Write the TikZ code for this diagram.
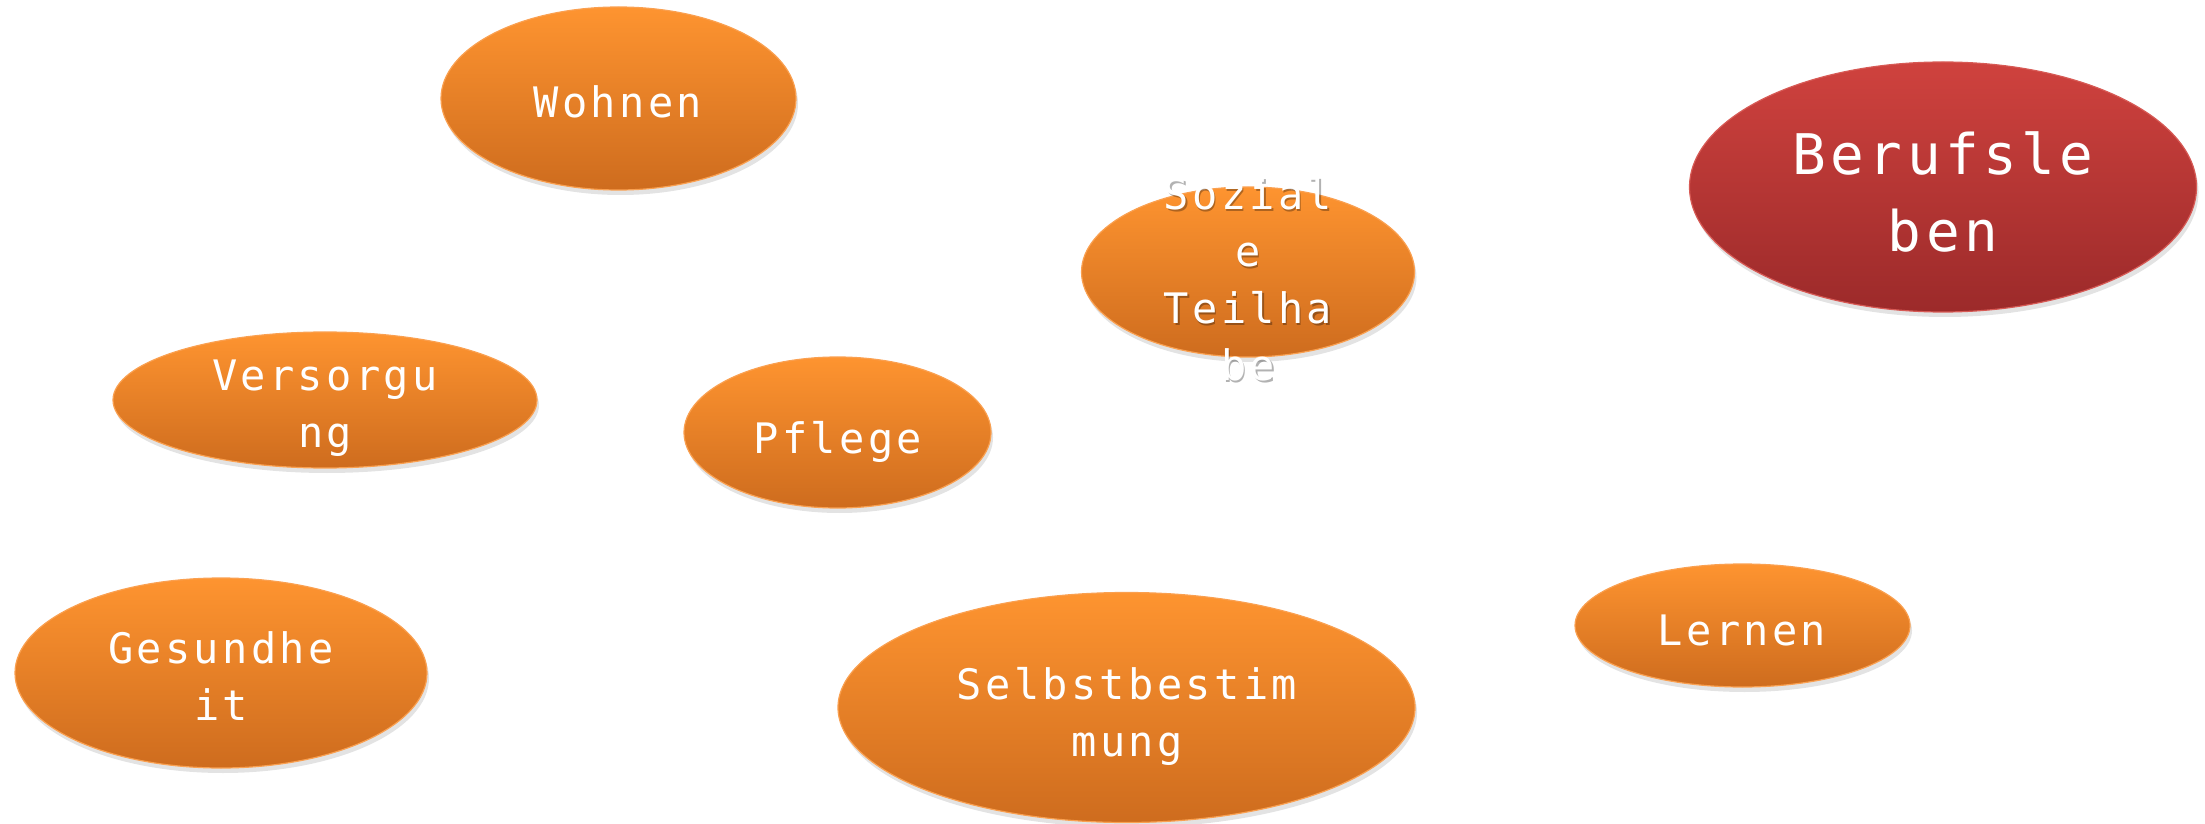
\documentclass[tikz,border=0pt]{standalone}
\usepackage{fontspec}
\setmonofont[LetterSpace=8]{DejaVu Sans Mono}
\usetikzlibrary{shapes.geometric,shadows}
\definecolor{otop}{RGB}{254,148,48}
\definecolor{obot}{RGB}{206,108,30}
\definecolor{oedge}{RGB}{250,160,80}
\definecolor{rtop}{RGB}{207,66,62}
\definecolor{rbot}{RGB}{156,42,42}
\definecolor{redge}{RGB}{215,90,85}
\tikzset{
  orangeblob/.style={ellipse, inner sep=0pt, top color=otop, bottom color=obot,
    draw=oedge, line width=1.2pt,
    drop shadow={opacity=0.22, shadow xshift=2pt, shadow yshift=-5pt}},
  redblob/.style={ellipse, inner sep=0pt, top color=rtop, bottom color=rbot,
    draw=redge, line width=1.2pt,
    drop shadow={opacity=0.22, shadow xshift=2pt, shadow yshift=-5pt}},
  blobtext/.style={text=white, align=center, inner sep=0pt,
    font=\ttfamily\fontsize{42}{57}\selectfont},
  bigtext/.style={text=white, align=center, inner sep=0pt,
    font=\ttfamily\fontsize{56}{77}\selectfont},
  textshade/.style={text=black, text opacity=0.3, xshift=1.5pt, yshift=-2pt},
}
\begin{document}
\begin{tikzpicture}[x=1pt,y=1pt]
\useasboundingbox (0,0) rectangle (2205,823);
% ellipses (y = 823 - pixel y)
\node[orangeblob, minimum width=355pt, minimum height=183pt] (wohnen) at (618.5,724.5) {};
\node[orangeblob, minimum width=333pt, minimum height=170pt] (sozial) at (1248,551) {};
\node[redblob, minimum width=507pt, minimum height=250pt] (beruf) at (1943,636) {};
\node[orangeblob, minimum width=424pt, minimum height=136pt] (versorg) at (325,423) {};
\node[orangeblob, minimum width=307pt, minimum height=151pt] (pflege) at (837.5,390.5) {};
\node[orangeblob, minimum width=412pt, minimum height=190pt] (gesund) at (221,150) {};
\node[orangeblob, minimum width=577pt, minimum height=230pt] (selbst) at (1126.5,115.5) {};
\node[orangeblob, minimum width=335pt, minimum height=123pt] (lernen) at (1742.5,197.5) {};
% Soziale Teilhabe text overflows its ellipse; shown with a soft shadow, top clipped
\begin{scope}
\clip (1000,0) rectangle (1500,648);
\node[blobtext, textshade] (sozialS) at (1248,544) {Sozial\\e\\Teilha\\be};
\node[blobtext] (sozialT) at (1248,544) {Sozial\\e\\Teilha\\be};
\end{scope}
% texts
\node[blobtext] (wohnenT) at (618,721) {Wohnen};
\node[bigtext] (berufT) at (1943,631.5) {Berufsle\\ben};
\node[blobtext] (versorgT) at (325,414.5) {Versorgu\\ng};
\node[blobtext] (pflegeT) at (838,381) {Pflege};
\node[blobtext] (gesundT) at (221,146.5) {Gesundhe\\it};
\node[blobtext] (selbstT) at (1127,106.5) {Selbstbestim\\mung};
\node[blobtext] (lernenT) at (1742,193) {Lernen};
\end{tikzpicture}
\end{document}
